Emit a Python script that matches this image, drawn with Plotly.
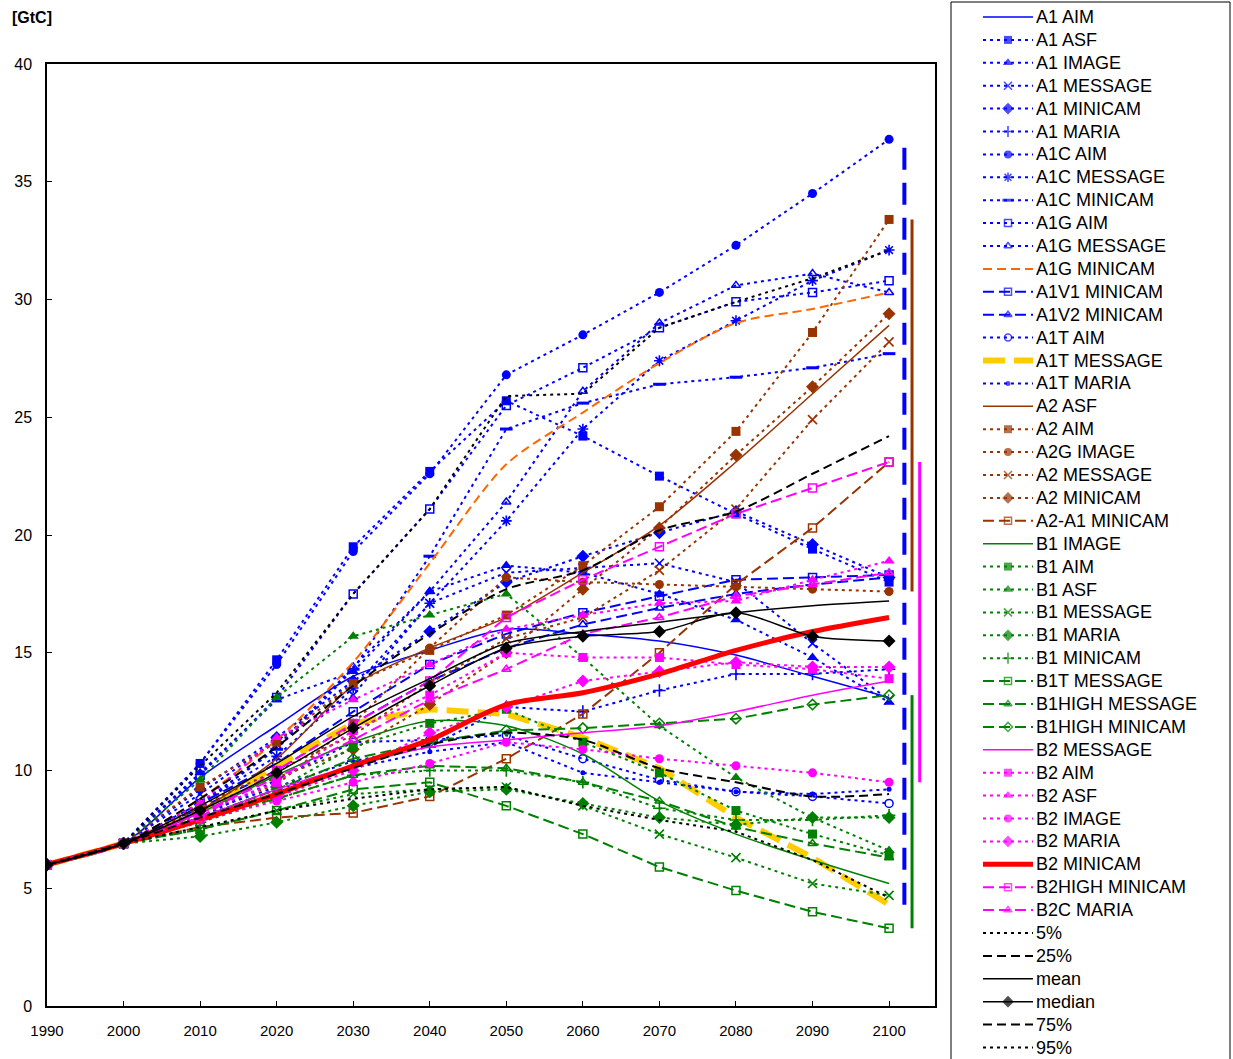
import plotly.graph_objects as go

years = [1990, 2000, 2010, 2020, 2030, 2040, 2050, 2060, 2070, 2080, 2090, 2100]

a1_aim = [6.0, 6.9, 9.7, 11.9, 14.0, 15.1, 16.0, 15.8, 15.5, 14.9, 14.0, 13.1]
a1_asf = [6.0, 6.9, 10.3, 14.7, 19.5, 22.7, 25.7, 24.2, 22.5, 20.9, 19.4, 18.0]
a1_image = [6.0, 6.9, 9.9, 13.0, 14.2, 17.6, 18.7, 18.4, 17.5, 16.4, 14.8, 12.9]
a1_message = [6.0, 6.9, 9.0, 11.3, 13.2, 17.1, 18.4, 18.6, 18.8, 18.0, 15.4, 13.0]
a1_minicam = [6.0, 6.9, 9.2, 11.4, 13.8, 15.9, 18.0, 19.1, 20.1, 21.0, 19.6, 18.2]
a1_maria = [6.0, 6.9, 8.2, 9.3, 10.4, 11.0, 12.7, 12.5, 13.4, 14.1, 14.1, 14.3]
a1c_aim = [6.0, 6.9, 10.3, 14.5, 19.3, 22.6, 26.8, 28.5, 30.3, 32.3, 34.5, 36.8]
a1c_message = [6.0, 6.9, 8.6, 10.6, 13.5, 17.1, 20.6, 24.5, 27.4, 29.1, 30.8, 32.1]
a1c_minicam = [6.0, 6.9, 8.6, 10.9, 14.3, 19.1, 24.5, 25.6, 26.4, 26.7, 27.1, 27.7]
a1g_aim = [6.0, 6.9, 9.8, 13.1, 17.5, 21.1, 25.5, 27.1, 28.8, 29.9, 30.3, 30.8]
a1g_message = [6.0, 6.9, 8.5, 11.0, 14.4, 17.6, 21.4, 26.1, 29.0, 30.6, 31.1, 30.3]
a1g_minicam = [6.0, 6.9, 8.8, 11.3, 14.6, 18.8, 23.0, 25.2, 27.3, 29.0, 29.6, 30.3]
a1v1_minicam = [6.0, 6.9, 8.6, 10.3, 12.5, 14.5, 15.8, 16.7, 17.4, 18.1, 18.2, 18.3]
a1v2_minicam = [6.0, 6.9, 8.4, 10.0, 12.0, 13.8, 15.2, 16.2, 16.9, 17.5, 17.9, 18.2]
a1t_aim = [6.0, 6.9, 8.0, 9.6, 11.2, 11.3, 11.5, 10.5, 9.6, 9.1, 8.9, 8.6]
a1t_message = [6.0, 6.9, 8.2, 10.2, 12.0, 12.6, 12.4, 11.4, 10.1, 8.0, 6.3, 4.3]
a1t_maria = [6.0, 6.9, 8.0, 9.2, 10.1, 10.8, 11.2, 9.9, 9.5, 9.1, 9.0, 9.2]
a2_asf = [6.0, 6.9, 8.3, 10.5, 13.6, 15.2, 16.5, 18.4, 20.4, 23.1, 26.0, 28.9]
a2_aim = [6.0, 6.9, 9.3, 11.2, 13.7, 15.1, 16.6, 18.7, 21.2, 24.4, 28.6, 33.4]
a2g_image = [6.0, 6.9, 8.3, 9.4, 12.0, 15.2, 18.2, 18.0, 17.9, 17.8, 17.7, 17.6]
a2_message = [6.0, 6.9, 8.5, 10.0, 11.5, 13.7, 15.6, 16.5, 18.5, 21.1, 24.9, 28.2]
a2_minicam = [6.0, 6.9, 8.4, 9.7, 10.9, 12.8, 15.0, 17.7, 20.3, 23.4, 26.3, 29.4]
a2a1_minicam = [6.0, 6.9, 7.6, 8.0, 8.2, 8.9, 10.5, 12.4, 15.0, 17.9, 20.3, 23.1]
b1_image = [6.0, 6.9, 8.2, 9.8, 11.2, 12.1, 11.9, 10.7, 8.7, 7.3, 6.2, 5.2]
b1_aim = [6.0, 6.9, 8.0, 9.2, 11.0, 12.0, 12.6, 11.2, 9.9, 8.3, 7.3, 6.4]
b1_asf = [6.0, 6.9, 9.6, 13.1, 15.7, 16.6, 17.5, 14.8, 11.9, 9.7, 8.0, 6.6]
b1_message = [6.0, 6.9, 7.5, 8.3, 9.0, 9.2, 9.3, 8.5, 7.3, 6.3, 5.2, 4.7]
b1_maria = [6.0, 6.9, 7.2, 7.8, 8.5, 9.1, 9.2, 8.6, 8.0, 7.7, 8.0, 8.0]
b1_minicam = [6.0, 6.9, 7.8, 8.8, 9.8, 10.0, 10.0, 9.5, 8.4, 7.9, 7.9, 8.1]
b1t_message = [6.0, 6.9, 7.5, 8.3, 9.2, 9.5, 8.5, 7.3, 5.9, 4.9, 4.0, 3.3]
b1high_message = [6.0, 6.9, 8.0, 8.8, 9.8, 10.2, 10.1, 9.5, 8.7, 7.6, 6.9, 6.3]
b1high_minicam = [6.0, 6.9, 8.0, 9.2, 10.5, 11.2, 11.7, 11.8, 12.0, 12.2, 12.8, 13.2]
b2_message = [6.0, 6.9, 8.0, 9.2, 10.2, 11.0, 11.3, 11.6, 11.9, 12.5, 13.2, 13.8]
b2_aim = [6.0, 6.9, 8.2, 9.5, 11.7, 13.2, 15.0, 14.8, 14.8, 14.5, 14.3, 13.9]
b2_asf = [6.0, 6.9, 8.6, 11.4, 13.0, 14.5, 16.0, 16.6, 17.1, 17.2, 18.1, 18.9]
b2_image = [6.0, 6.9, 7.9, 8.7, 9.5, 10.3, 11.2, 10.9, 10.5, 10.2, 9.9, 9.5]
b2_maria = [6.0, 6.9, 8.1, 8.9, 10.0, 11.6, 12.7, 13.8, 14.2, 14.6, 14.4, 14.4]
b2_minicam = [6.0, 6.9, 7.9, 9.0, 10.2, 11.3, 12.8, 13.3, 14.1, 15.1, 15.9, 16.5]
b2high_minicam = [6.0, 6.9, 8.0, 10.0, 12.0, 13.8, 16.5, 18.1, 19.5, 20.9, 22.0, 23.1]
b2c_maria = [6.0, 6.9, 8.2, 9.7, 11.3, 13.0, 14.3, 15.8, 16.5, 17.4, 17.9, 18.4]
p05 = [6.0, 6.9, 7.6, 8.3, 8.8, 9.2, 9.3, 8.5, 7.9, 7.4, 6.2, 4.6]
p25 = [6.0, 6.9, 8.0, 9.0, 10.1, 11.1, 11.6, 11.3, 10.1, 9.5, 8.9, 9.0]
mean = [6.0, 6.9, 8.5, 10.3, 12.3, 13.9, 15.4, 15.9, 16.3, 16.7, 17.0, 17.2]
median = [6.0, 6.9, 8.3, 9.9, 11.8, 13.6, 15.2, 15.7, 15.9, 16.7, 15.7, 15.5]
p75 = [6.0, 6.9, 8.8, 11.0, 13.6, 15.8, 17.7, 18.5, 20.2, 21.0, 22.6, 24.2]
p95 = [6.0, 6.9, 10.2, 13.3, 17.5, 21.1, 25.9, 26.0, 28.8, 29.9, 30.9, 32.1]

x_tick_labels = [str(y) for y in years]
y_tick_vals = [0, 5, 10, 15, 20, 25, 30, 35, 40]

BLUE = "#0000FF"; BROWN = "#993300"; GREEN = "#008000"; MAG = "#FF00FF"
ORANGE = "#FF6600"; YELLOW = "#FFCC00"; RED = "#FF0000"; BLACK = "#000000"

DOT = "3px,4px"; DASH = "9px,5px"; LDASH = "11px,5px"

# (name, data, color, line dash, line width, marker symbol, smooth)
series = [
    ("A1 AIM", a1_aim, BLUE, "solid", 1.5, None, True),
    ("A1 ASF", a1_asf, BLUE, DOT, 2, "square", False),
    ("A1 IMAGE", a1_image, BLUE, DOT, 2, "triangle-up", False),
    ("A1 MESSAGE", a1_message, BLUE, DOT, 2, "x-thin-open", False),
    ("A1 MINICAM", a1_minicam, BLUE, DOT, 2, "diamond", False),
    ("A1 MARIA", a1_maria, BLUE, DOT, 2, "cross-thin-open", False),
    ("A1C AIM", a1c_aim, BLUE, DOT, 2, "circle", False),
    ("A1C MESSAGE", a1c_message, BLUE, DOT, 2, "asterisk-open", False),
    ("A1C MINICAM", a1c_minicam, BLUE, DOT, 2, "line-ew-open", False),
    ("A1G AIM", a1g_aim, BLUE, DOT, 2, "square-open", False),
    ("A1G MESSAGE", a1g_message, BLUE, DOT, 2, "triangle-up-open", False),
    ("A1G MINICAM", a1g_minicam, ORANGE, DASH, 2, None, True),
    ("A1V1 MINICAM", a1v1_minicam, BLUE, LDASH, 2, "square-open", False),
    ("A1V2 MINICAM", a1v2_minicam, BLUE, LDASH, 2, "triangle-up-open", False),
    ("A1T AIM", a1t_aim, BLUE, DOT, 2, "circle-open", False),
    ("A1T MESSAGE", a1t_message, YELLOW, "22px,9px", 6, None, False),
    ("A1T MARIA", a1t_maria, BLUE, DOT, 2, "circle", False),
    ("A2 ASF", a2_asf, BROWN, "solid", 1.5, None, True),
    ("A2 AIM", a2_aim, BROWN, DOT, 2, "square", False),
    ("A2G IMAGE", a2g_image, BROWN, DOT, 2, "circle", False),
    ("A2 MESSAGE", a2_message, BROWN, DOT, 2, "x-thin-open", False),
    ("A2 MINICAM", a2_minicam, BROWN, DOT, 2, "diamond", False),
    ("A2-A1 MINICAM", a2a1_minicam, BROWN, LDASH, 2, "square-open", False),
    ("B1 IMAGE", b1_image, GREEN, "solid", 1.5, None, True),
    ("B1 AIM", b1_aim, GREEN, DOT, 2, "square", False),
    ("B1 ASF", b1_asf, GREEN, DOT, 2, "triangle-up", False),
    ("B1 MESSAGE", b1_message, GREEN, DOT, 2, "x-thin-open", False),
    ("B1 MARIA", b1_maria, GREEN, DOT, 2, "diamond", False),
    ("B1 MINICAM", b1_minicam, GREEN, DOT, 2, "cross-thin-open", False),
    ("B1T MESSAGE", b1t_message, GREEN, LDASH, 2, "square-open", False),
    ("B1HIGH MESSAGE", b1high_message, GREEN, LDASH, 2, "triangle-up-open", False),
    ("B1HIGH MINICAM", b1high_minicam, GREEN, LDASH, 2, "diamond-open", False),
    ("B2 MESSAGE", b2_message, MAG, "solid", 1.5, None, True),
    ("B2 AIM", b2_aim, MAG, DOT, 2, "square", False),
    ("B2 ASF", b2_asf, MAG, DOT, 2, "triangle-up", False),
    ("B2 IMAGE", b2_image, MAG, DOT, 2, "circle", False),
    ("B2 MARIA", b2_maria, MAG, DOT, 2, "diamond", False),
    ("B2 MINICAM", b2_minicam, RED, "solid", 5, None, True),
    ("B2HIGH MINICAM", b2high_minicam, MAG, LDASH, 2, "square-open", False),
    ("B2C MARIA", b2c_maria, MAG, LDASH, 2, "triangle-up-open", False),
    ("5%", p05, BLACK, DOT, 2, None, False),
    ("25%", p25, BLACK, DASH, 2, None, True),
    ("mean", mean, BLACK, "solid", 1.5, None, True),
    ("median", median, BLACK, "solid", 1.5, "diamond", True),
    ("75%", p75, BLACK, DASH, 2, None, True),
    ("95%", p95, BLACK, DOT, 2, None, False),
]

# families for the 2100 range bars: (family tag, color, x position, dash, width)
families = [
    ("A1", BLUE, 2102, "22px,13px", 4),
    ("A2", BROWN, 2103, "solid", 3),
    ("B1", GREEN, 2103, "solid", 3),
    ("B2", MAG, 2104, "solid", 3),
]

W, H = 1233, 1059
FONT = "Liberation Sans, Arial, sans-serif"

fig = go.Figure()


def marker_spec(sym, color, size):
    if sym is None:
        return dict(size=0, opacity=0)
    base = sym.replace("-open", "")
    if sym.endswith("-open") and base in ("x-thin", "cross-thin", "asterisk", "line-ew"):
        lw = 3 if base == "line-ew" else 1.6
        return dict(symbol=sym, size=size, color=color, line=dict(color=color, width=lw))
    if sym.endswith("-open"):
        return dict(symbol=sym, size=size - 1, color=color, line=dict(color=color, width=1.5))
    return dict(symbol=sym, size=size, color=color, line=dict(width=0))


def marker_size(name, sym, big):
    if name == "A1T MARIA":
        return 5
    if sym in ("triangle-up", "diamond"):
        return big + 1
    return big


for name, data, color, dash, width, sym, smooth in series:
    fig.add_trace(go.Scatter(
        x=years, y=data, name=name,
        mode="lines+markers" if sym else "lines",
        line=dict(color=color, width=width, dash=dash,
                  shape="spline" if smooth else "linear", smoothing=0.8),
        marker=marker_spec(sym, color, marker_size(name, sym, 9)),
        showlegend=False, hoverinfo="skip",
    ))

# range bars at 2100 for each scenario family
idx2100 = years.index(2100)
for fam, color, xpos, dash, width in families:
    vals = [d[idx2100] for (n, d, *_r) in series if n[:2] == fam]
    fig.add_trace(go.Scatter(
        x=[xpos, xpos], y=[min(vals), max(vals)], mode="lines",
        line=dict(color=color, width=width, dash=dash),
        showlegend=False, hoverinfo="skip",
    ))

# hand-built legend on an auxiliary pixel-space axis pair
LEG_TOP, LEG_STEP = 17, 22.9
LX0, LX1, LTXT = 983, 1033, 1036
for i, (name, data, color, dash, width, sym, smooth) in enumerate(series):
    yy = LEG_TOP + LEG_STEP * i
    ms = marker_spec(sym, color, marker_size(name, sym, 8))
    if sym:
        ms["size"] = [0, ms["size"], 0]
    fig.add_trace(go.Scatter(
        x=[LX0, (LX0 + LX1) / 2, LX1], y=[yy, yy, yy],
        mode="lines+markers" if sym else "lines",
        line=dict(color=color, width=width, dash=dash),
        marker=ms, xaxis="x2", yaxis="y2", showlegend=False, hoverinfo="skip",
    ))
fig.add_trace(go.Scatter(
    x=[LTXT] * len(series), y=[LEG_TOP + 1.5 + LEG_STEP * i for i in range(len(series))],
    mode="text", text=[s[0] for s in series], textposition="middle right",
    textfont=dict(family=FONT, size=18, color="black"),
    xaxis="x2", yaxis="y2", showlegend=False, hoverinfo="skip",
))

fig.update_layout(
    width=W, height=H,
    margin=dict(l=0, r=0, t=0, b=0, autoexpand=False),
    paper_bgcolor="white", plot_bgcolor="white",
    font=dict(family=FONT, color="black"),
    showlegend=False,
    xaxis=dict(
        domain=[47 / W, 935 / W], range=[1990, 2106],
        tickmode="array", tickvals=years, ticktext=x_tick_labels,
        ticks="inside", ticklen=5, tickwidth=1, tickcolor="black",
        showline=True, mirror=True, linecolor="black", linewidth=1.5,
        showgrid=False, zeroline=False, automargin=False,
        tickfont=dict(family=FONT, size=15, color="black"),
        ticklabelstandoff=10,
    ),
    yaxis=dict(
        domain=[(H - 1006) / H, (H - 64) / H], range=[0, 40],
        tickmode="array", tickvals=y_tick_vals,
        ticks="inside", ticklen=5, tickwidth=1, tickcolor="black",
        showline=True, mirror=True, linecolor="black", linewidth=1.5,
        showgrid=False, zeroline=False, automargin=False,
        tickfont=dict(family=FONT, size=16, color="black"),
        ticklabelstandoff=10,
    ),
    xaxis2=dict(domain=[945 / W, 1], range=[945, W], visible=False, anchor="y2", automargin=False),
    yaxis2=dict(domain=[0, 1], range=[H, 0], visible=False, anchor="x2", automargin=False),
    shapes=[dict(type="rect", xref="paper", yref="paper",
                 x0=951 / W, x1=1230 / W, y0=-0.02, y1=(H - 2) / H,
                 line=dict(color="black", width=1), fillcolor="rgba(0,0,0,0)")],
    annotations=[dict(text="<b>[GtC]</b>", xref="paper", yref="paper",
                      x=10 / W, y=(H - 18) / H, xanchor="left", yanchor="middle",
                      showarrow=False, font=dict(family=FONT, size=16, color="black"))],
)

fig.write_html("out.html")
